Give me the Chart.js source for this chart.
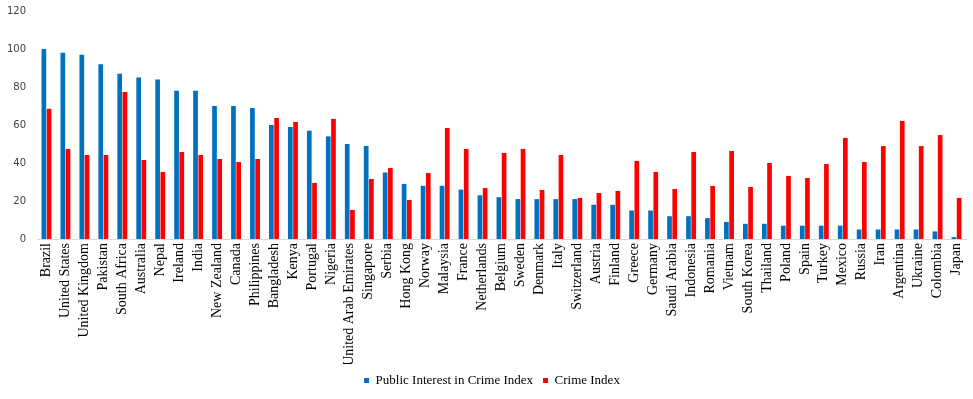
<!DOCTYPE html>
<html>
<head>
<meta charset="utf-8">
<script src="https://cdn.jsdelivr.net/npm/chart.js@4"></script>
<style>
  html, body { margin: 0; padding: 0; background: #fff; }
  #wrap { width: 973px; height: 399px; }
</style>
</head>
<body>
<div id="wrap"><canvas id="crimeChart" width="973" height="399"></canvas></div>
<script>
const countries = ["Brazil", "United States", "United Kingdom", "Pakistan", "South Africa", "Australia", "Nepal",
    "Ireland", "India", "New Zealand", "Canada", "Philippines", "Bangladesh", "Kenya", "Portugal", "Nigeria",
    "United Arab Emirates", "Singapore", "Serbia", "Hong Kong", "Norway", "Malaysia", "France", "Netherlands",
    "Belgium", "Sweden", "Denmark", "Italy", "Switzerland", "Austria", "Finland", "Greece", "Germany",
    "Saudi Arabia", "Indonesia", "Romania", "Vietnam", "South Korea", "Thailand", "Poland", "Spain", "Turkey",
    "Mexico", "Russia", "Iran", "Argentina", "Ukraine", "Colombia", "Japan"];

const publicInterest = [100, 98, 97, 92, 87, 85, 84, 78, 78, 70, 70, 69, 60, 59, 57, 54, 50, 49, 35, 29, 28, 28,
    26, 23, 22, 21, 21, 21, 21, 18, 18, 15, 15, 12, 12, 11, 9, 8, 8, 7, 7, 7, 7, 5, 5, 5, 5, 4, 1];

const crimeIndex = [68.6, 47.4, 44.2, 44.2, 77.4, 41.6, 35.3, 45.8, 44.2, 42.1, 40.5, 42.1, 63.7, 61.6, 29.5, 63.2,
    15.3, 31.6, 37.4, 20.5, 34.7, 58.4, 47.4, 26.8, 45.3, 47.4, 25.8, 44.2, 21.6, 24.2, 25.3, 41.1, 35.3,
    26.3, 45.8, 27.9, 46.3, 27.4, 40.0, 33.2, 32.1, 39.5, 53.2, 40.5, 48.9, 62.1, 48.9, 54.7, 21.6];

const yTicks = [0, 20, 40, 60, 80, 100, 120];

const serif = "'Liberation Serif', 'DejaVu Serif', serif";

// legend sits a little right of canvas centre in the original
const nudgeLegend = {
    id: "nudgeLegend",
    afterLayout(chart) {
        chart.legend.left += 9;
        chart.legend.right += 9;
    },
};

const ctx = document.getElementById("crimeChart").getContext("2d");
const chart = new Chart(ctx, {
    type: "bar",
    data: {
        labels: countries,
        datasets: [
            {
                label: "Public Interest in Crime Index",
                data: publicInterest,
                backgroundColor: "#0070C0",
                categoryPercentage: 0.55,
                barPercentage: 0.9,
            },
            {
                label: "Crime Index",
                data: crimeIndex,
                backgroundColor: "#FF0000",
                categoryPercentage: 0.55,
                barPercentage: 0.9,
            },
        ],
    },
    options: {
        responsive: false,
        animation: false,
        layout: { padding: { left: 0, right: 7, top: 11, bottom: 2 } },
        plugins: {
            tooltip: { enabled: false },
            legend: {
                position: "bottom",
                labels: {
                    boxWidth: 5,
                    boxHeight: 5,
                    padding: 10,
                    color: "#000",
                    font: { family: serif, size: 13 },
                },
            },
        },
        scales: {
            x: {
                grid: { display: false, drawTicks: false },
                border: { display: true, color: "#d9d9d9", width: 1 },
                ticks: {
                    autoSkip: false,
                    minRotation: 90,
                    maxRotation: 90,
                    padding: 4,
                    color: "#000",
                    font: { family: serif, size: 14 },
                },
                afterFit: (scale) => {
                    scale.height = 125;
                    scale.paddingLeft = 0;
                    scale.paddingRight = 0;
                },
            },
            y: {
                min: 0,
                max: 120,
                grid: { display: false, drawTicks: false },
                border: { display: false },
                afterBuildTicks: (scale) => { scale.ticks = yTicks.map((v) => ({ value: v })); },
                ticks: {
                    padding: 11,
                    color: "#404040",
                    font: { family: "'DejaVu Sans', sans-serif", size: 10 },
                },
                afterFit: (scale) => {
                    scale.width = 37;
                    scale.paddingTop = 0;
                    scale.paddingBottom = 0;
                },
            },
        },
    },
    plugins: [nudgeLegend],
});
</script>
</body>
</html>
